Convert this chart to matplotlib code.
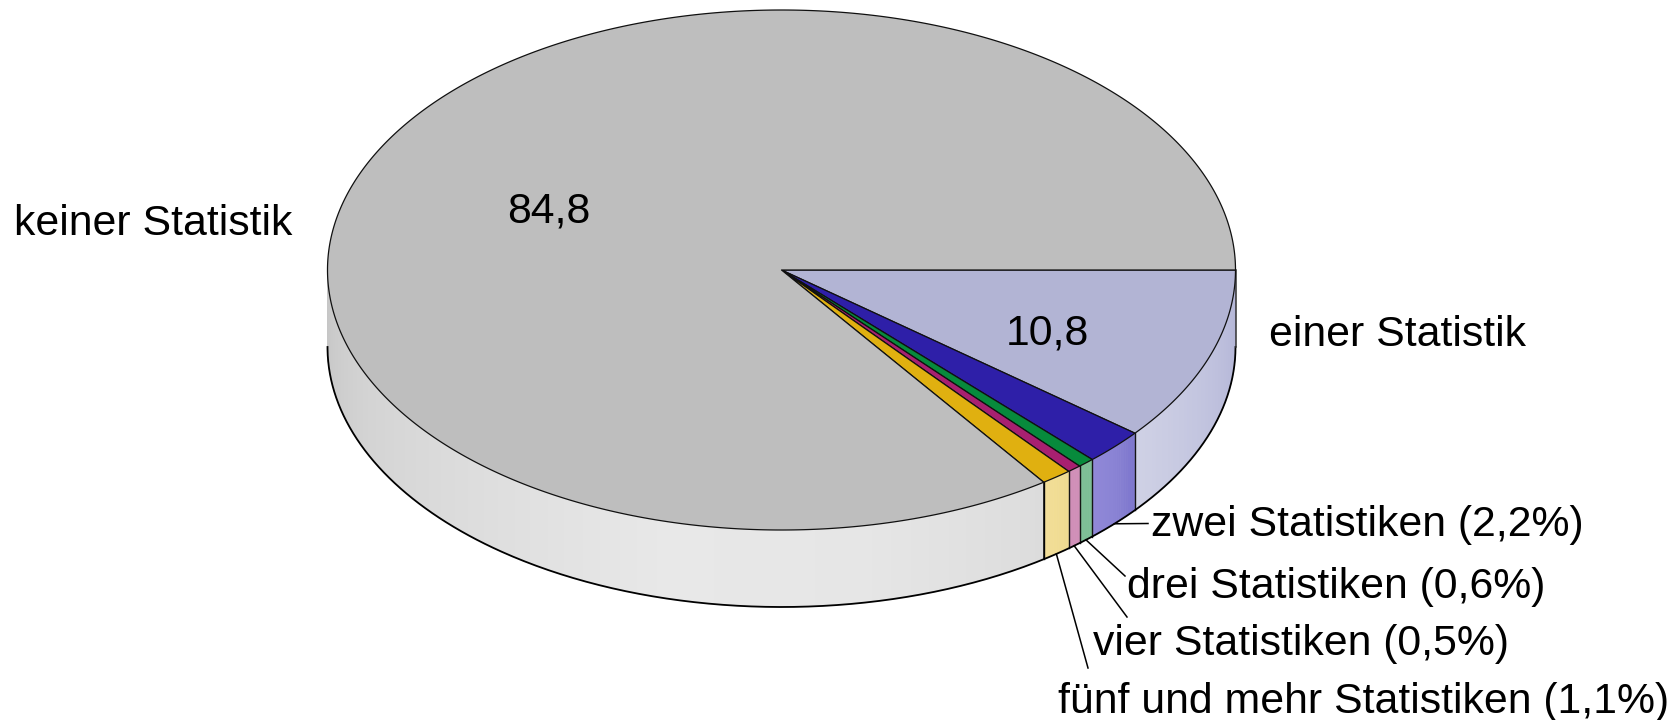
import numpy as np
import matplotlib
matplotlib.use("Agg")
import matplotlib.pyplot as plt
from matplotlib.colors import to_rgb
from matplotlib.patches import Polygon

plt.rcParams['font.family'] = ['Liberation Sans', 'DejaVu Sans']

# Data (percent), clockwise from the 3 o'clock position
categories = ["einer Statistik", "zwei Statistiken", "drei Statistiken",
              "vier Statistiken", "fünf und mehr Statistiken", "keiner Statistik"]
values = [10.8, 2.2, 0.6, 0.5, 1.1, 84.8]
value_texts = ["10,8", "2,2", "0,6", "0,5", "1,1", "84,8"]

top_colors = ["#B2B4D4", "#2E1FA8", "#078A3C", "#A82070", "#E0B010", "#BEBEBE"]
# side-wall shade stops for each slice: relative position -> colour
side_stops = [
    ["#B2B4D6", "#C0C2DE", "#CFD1E5"],
    ["#7C75CC", "#8A83D4", "#9088D8"],
    ["#7DBE96", "#7DBE96"],
    ["#D08FB8", "#D08FB8"],
    ["#EFDB90", "#F2DE98"],
    ["#DCDCDC", "#E6E6E6", "#E8E8E8", "#DEDEDE", "#D4D4D4", "#C6C6C6"],
]

# Layout (pixels of the 1679x720 canvas)
W, H = 1679, 720
CX, CY, RX, RY, DEPTH = 781.5, 270, 454, 260, 77

fig = plt.figure(figsize=(W / 100, H / 100), dpi=100)
ax = fig.add_axes([0, 0, 1, 1])
ax.set_xlim(0, W)
ax.set_ylim(H, 0)
ax.axis("off")


def rim(angle_deg, drop=0.0):
    a = np.radians(angle_deg)
    return CX + RX * np.cos(a), CY + RY * np.sin(a) + drop


edges = np.concatenate([[0], np.cumsum(values)]) / sum(values) * 360

# side wall: shaded facets on the visible half only
for i, (a0, a1) in enumerate(zip(edges[:-1], edges[1:])):
    vis0, vis1 = a0, min(a1, 180)
    if vis0 >= 180:
        continue
    stops = np.array([to_rgb(c) for c in side_stops[i]])
    pos = np.linspace(0, 1, len(stops))
    grid = np.linspace(vis0, vis1, max(3, int((vis1 - vis0) * 3)))
    for g0, g1 in zip(grid[:-1], grid[1:]):
        t = ((g0 + g1) / 2 - vis0) / (vis1 - vis0)
        col = [np.interp(t, pos, stops[:, k]) for k in range(3)]
        x0, y0 = rim(g0)
        x1, y1 = rim(g1)
        x2, y2 = rim(g1, DEPTH)
        x3, y3 = rim(g0, DEPTH)
        ax.add_patch(Polygon([(x0, y0), (x1, y1), (x2, y2), (x3, y3)], closed=True,
                             facecolor=col, edgecolor=col, lw=0.6, zorder=1))
    if 0 < a0 < 180:
        x, y = rim(a0)
        ax.plot([x, x], [y, y + DEPTH], color="#151515", lw=1.0, zorder=2)
x, y = rim(edges[5])
ax.plot([x, x], [y, y + DEPTH], color="black", lw=1.1, zorder=2)

# lower outline and right edge
arc = np.linspace(0, 180, 400)
bx, by = rim(arc, DEPTH)
ax.plot(bx, by, color="black", lw=1.3, zorder=3)
ax.plot([CX + RX, CX + RX], [CY, CY + DEPTH], color="#333333", lw=1.1, zorder=3)

# top face
for i, (a0, a1) in enumerate(zip(edges[:-1], edges[1:])):
    th = np.linspace(a0, a1, max(3, int((a1 - a0) * 3)))
    xs, ys = rim(th)
    pts = np.column_stack([np.r_[CX, xs], np.r_[CY, ys]])
    ax.add_patch(Polygon(pts, closed=True, facecolor=top_colors[i],
                         edgecolor="#101010", lw=0.9, joinstyle="round", zorder=4))

# value labels
TS = 30.8
ax.text(1047, 334, value_texts[0], fontsize=TS, ha="center", va="center", zorder=6)
ax.text(549, 211, value_texts[5], fontsize=TS, ha="center", va="center", zorder=6)

# category labels
ax.text(14, 224, categories[5], fontsize=TS, ha="left", va="center")
ax.text(1269, 335, categories[0], fontsize=TS, ha="left", va="center")
label_pos = {1: (1151, 525), 2: (1127, 587), 3: (1093, 644), 4: (1058, 702)}
leader_end = {1: (1148, 523.5), 2: (1125, 576), 3: (1127, 617), 4: (1088, 668)}
for i, (lx, ly) in label_pos.items():
    ax.text(lx, ly, f"{categories[i]} ({value_texts[i]}%)", fontsize=TS,
            ha="left", va="center")
    sx, sy = rim((edges[i] + edges[i + 1]) / 2, DEPTH)
    ex, ey = leader_end[i]
    ax.plot([sx, ex], [sy, ey], color="black", lw=1.1, zorder=5)

fig.savefig("out.png", dpi=100, facecolor="white")
